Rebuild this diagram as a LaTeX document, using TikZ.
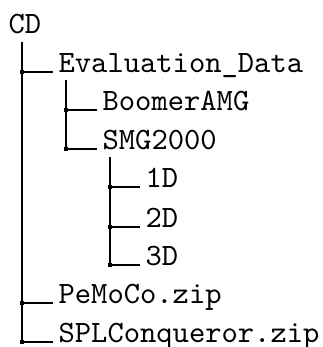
\documentclass[tikz,border=0pt]{standalone}
\usetikzlibrary{positioning}

\begin{document}
\begin{tikzpicture}[
    x=0.322pt, y=-0.322pt,
    dirnode/.style={
    anchor=base west,
    inner xsep=1.6pt,
    inner ysep=0pt,
    font=\ttfamily},
    dirline/.style={line width=0.4pt},
    dirdot/.style={
    rectangle,
    fill=black,
    inner sep=0pt,
    minimum size=1.4pt}
    ]
    \useasboundingbox (0,0) rectangle (323,347);

    \node[dirnode] (cd) at (3,33) {CD};
    \node[dirnode] (evaldata) at (53,72) {Evaluation\_Data};
    \node[dirnode] (boomer) at (97,110) {BoomerAMG};
    \node[dirnode] (smg) at (97,149) {SMG2000};
    \node[dirnode] (oned) at (140,187) {1D};
    \node[dirnode] (twod) at (140,227) {2D};
    \node[dirnode] (threed) at (140,265) {3D};
    \node[dirnode] (pemoco) at (53,303) {PeMoCo.zip};
    \node[dirnode] (spl) at (53,342) {SPLConqueror.zip};

    \coordinate (cdtop) at (22,42);
    \coordinate (evaltop) at (66,80);
    \coordinate (smgtop) at (110,157);

    \draw[dirline] (cdtop) |- (evaldata.base west) node[dirdot, pos=0.5] {};
    \draw[dirline] (cdtop) |- (pemoco.base west) node[dirdot, pos=0.5] {};
    \draw[dirline] (cdtop) |- (spl.base west) node[dirdot, pos=0.5] {};

    \draw[dirline] (evaltop) |- (boomer.base west) node[dirdot, pos=0.5] {};
    \draw[dirline] (evaltop) |- (smg.base west) node[dirdot, pos=0.5] {};

    \draw[dirline] (smgtop) |- (oned.base west) node[dirdot, pos=0.5] {};
    \draw[dirline] (smgtop) |- (twod.base west) node[dirdot, pos=0.5] {};
    \draw[dirline] (smgtop) |- (threed.base west) node[dirdot, pos=0.5] {};
\end{tikzpicture}
\end{document}
